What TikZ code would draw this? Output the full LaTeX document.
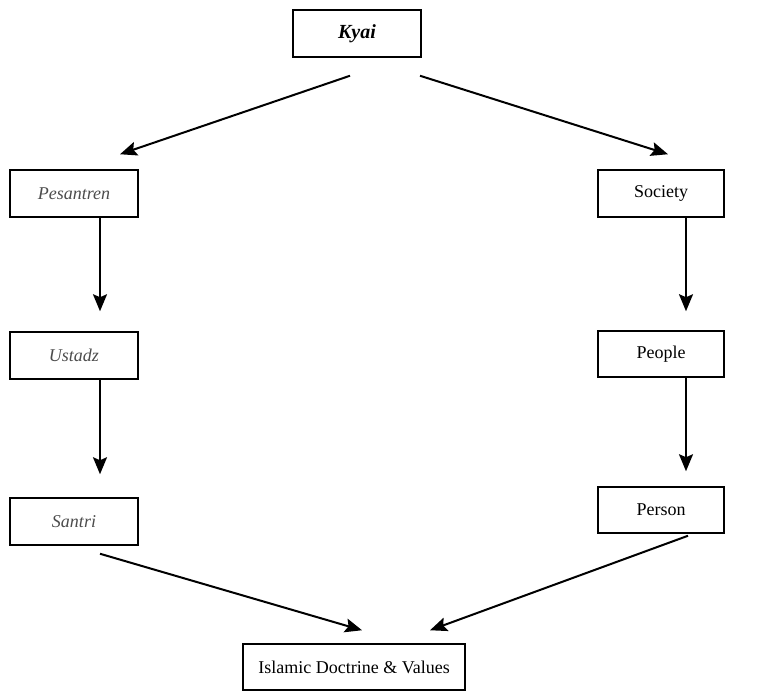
\documentclass[tikz,border=0pt]{standalone}
\usepackage{fontspec}
\setmainfont{Liberation Serif}
\usetikzlibrary{arrows.meta,positioning,calc}
\tikzset{
  box/.style={draw, line width=1.5pt, minimum width=128pt, minimum height=47pt, inner sep=0pt, font=\fontsize{18}{22}\selectfont},
  ital/.style={font=\fontsize{18}{22}\selectfont\itshape, text=black!70},
  arr/.style={-{Stealth[length=17pt,width=14pt,inset=3pt]}, line width=2pt},
}

\begin{document}
\begin{tikzpicture}[x=1pt,y=-1pt]
  \useasboundingbox (0,0) rectangle (769,691);
  % top
  \node[box, font=\fontsize{20}{24}\selectfont] (kyai) at (357,33.5) {\textbf{\textit{Kyai}}};
  % left column
  \node[box, ital] (pesantren) at (74,193.5) {Pesantren};
  \node[box, ital] (ustadz) at (74,355.5) {Ustadz};
  \node[box, ital] (santri) at (74,521.5) {Santri};
  % right column
  \node[box, minimum width=126pt] (society) at (661,193.5) {Society};
  \node[box, minimum width=126pt, minimum height=46pt] (people) at (661,354) {People};
  \node[box, minimum width=126pt, minimum height=46pt] (person) at (661,510) {Person};
  % bottom
  \node[box, minimum width=222pt, minimum height=46pt] (islamic) at (354,667) {Islamic Doctrine \& Values};

  \coordinate (kyaiL) at ($(kyai.south)+(-7,18)$);
  \coordinate (kyaiR) at ($(kyai.south)+(63,18)$);
  \draw[arr] (kyaiL) -- ($(pesantren.north)+(46,-15)$);
  \draw[arr] (kyaiR) -- ($(society.north)+(7,-15)$);

  \draw[arr, shorten >=20pt] ([xshift=26pt]pesantren.south) -- ([xshift=26pt]ustadz.north);
  \draw[arr, shorten >=23pt] ([xshift=26pt]ustadz.south) -- ([xshift=26pt]santri.north);
  \draw[arr, shorten >=19pt] ([xshift=25pt]society.south) -- ([xshift=25pt]people.north);
  \draw[arr, shorten >=15pt] ([xshift=25pt]people.south) -- ([xshift=25pt]person.north);

  \coordinate (santriB) at ($(santri.south)+(26,8)$);
  \coordinate (personB) at ($(person.south)+(27,2)$);
  \draw[arr] (santriB) -- ($(islamic.north)+(8,-13)$);
  \draw[arr] (personB) -- ($(islamic.north)+(76,-13)$);
\end{tikzpicture}
\end{document}
